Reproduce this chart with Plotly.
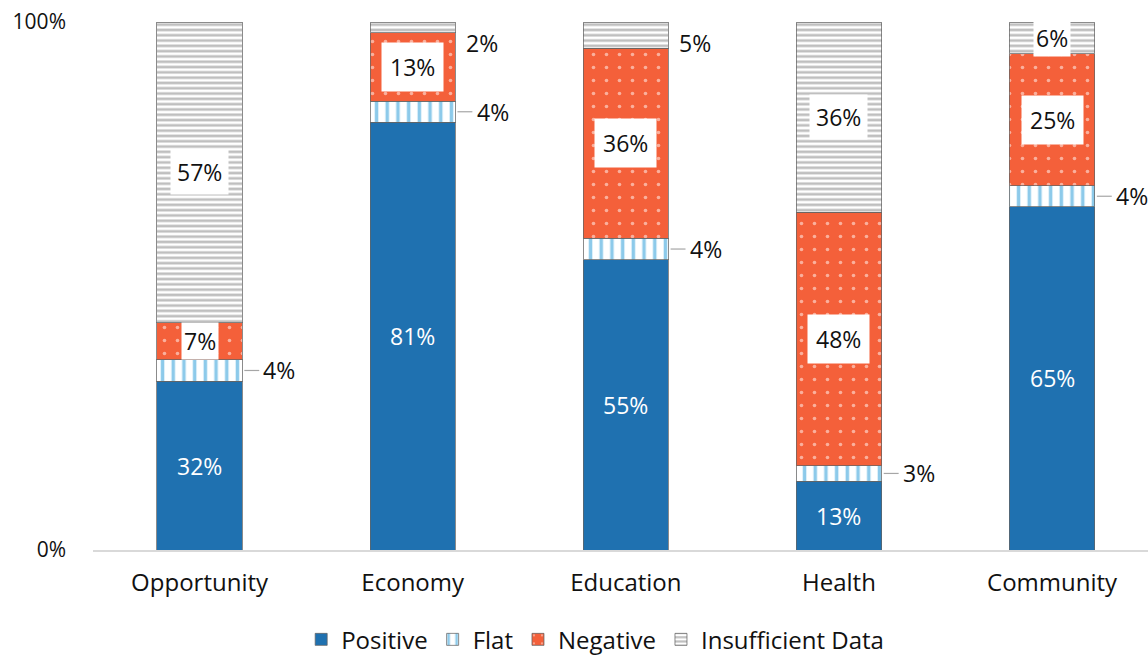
import plotly.graph_objects as go

categories = ["Opportunity", "Economy", "Education", "Health", "Community"]
positive = [32, 81, 55, 13, 65]
flat = [4, 4, 4, 3, 4]
negative = [7, 13, 36, 48, 25]
insufficient = [57, 2, 5, 36, 6]
insuf_inside = [True, False, False, True, True]
y_ticks = [0, 100]
y_ticktext = ["0%", "100%"]

FONT = "Open Sans"
C_POS = "#1f71b0"
C_FLAT = "#1c96d6"
C_NEG = "#f4603a"
C_INS = "#7f7f7f"
OUTLINE = dict(color="rgba(100,100,100,0.75)", width=1)
BW = 0.4
LBL = 23

x = list(range(len(categories)))
fig = go.Figure()
fig.add_trace(go.Bar(name="Positive", x=x, y=positive, width=BW,
                     marker=dict(color=C_POS, line=OUTLINE)))
fig.add_trace(go.Bar(name="Flat", x=x, y=flat, width=BW,
                     marker=dict(color="white", line=OUTLINE,
                                 pattern=dict(shape="|", fgcolor=C_FLAT, bgcolor="white",
                                              size=10.7, solidity=0.33, fillmode="overlay"))))
fig.add_trace(go.Bar(name="Negative", x=x, y=negative, width=BW,
                     marker=dict(color=C_NEG, line=OUTLINE,
                                 pattern=dict(shape=".", fgcolor="white", bgcolor=C_NEG,
                                              size=13, solidity=0.06, fillmode="overlay"))))
fig.add_trace(go.Bar(name="Insufficient Data", x=x, y=insufficient, width=BW,
                     marker=dict(color="white", line=OUTLINE,
                                 pattern=dict(shape="-", fgcolor=C_INS, bgcolor="white",
                                              size=5.3, solidity=0.5, fillmode="overlay"))))

annotations = []
shapes = []
for i in x:
    p, f, n, s = positive[i], flat[i], negative[i], insufficient[i]
    annotations.append(dict(x=i, y=p / 2, text=f"{p}%", showarrow=False,
                            font=dict(color="white", size=LBL, family=FONT)))
    yc = p + f / 2
    shapes.append(dict(type="line", xref="x", yref="y", x0=i + BW / 2 + 0.01, x1=i + 0.28,
                       y0=yc, y1=yc, line=dict(color="#a6a6a6", width=1.2)))
    annotations.append(dict(x=i + 0.375, y=yc, text=f"{f}%", showarrow=False,
                            font=dict(color="#111", size=LBL, family=FONT)))
    yn = p + f + n / 2
    annotations.append(dict(x=i, y=yn, text=f"{n}%", showarrow=False, bgcolor="white",
                            borderpad=2 if n < 10 else 8,
                            font=dict(color="#111", size=LBL, family=FONT)))
    yi = p + f + n + s / 2
    if insuf_inside[i]:
        annotations.append(dict(x=i, y=yi, text=f"{s}%", showarrow=False, bgcolor="white",
                                borderpad=2 if s < 10 else 6,
                                font=dict(color="#111", size=LBL, family=FONT)))
    else:
        annotations.append(dict(x=i + 0.325, y=min(yi, 96), text=f"{s}%", showarrow=False,
                                font=dict(color="#111", size=LBL, family=FONT)))

fig.update_layout(
    barmode="stack",
    width=1148, height=656,
    margin=dict(l=93, r=0, t=22, b=106, autoexpand=False),
    paper_bgcolor="white", plot_bgcolor="white",
    font=dict(family=FONT, color="#111"),
    annotations=annotations,
    shapes=shapes,
    xaxis=dict(range=[-0.5, 4.45], tickvals=x, ticktext=categories,
               tickfont=dict(size=24, family=FONT, color="#111"),
               showline=True, linecolor="#d9d9d9", linewidth=2,
               showgrid=False, zeroline=False, ticks="", ticklabelstandoff=10,
               automargin=False),
    yaxis=dict(range=[0, 100], tickvals=y_ticks, ticktext=y_ticktext,
               tickfont=dict(size=21, family=FONT, color="#111"),
               showgrid=False, zeroline=False, showline=False, ticklabelstandoff=26,
               automargin=False),
    legend=dict(orientation="h", x=0.476, xanchor="center", y=-0.17, yanchor="middle",
                font=dict(size=24, family=FONT, color="#111"), traceorder="normal",
                itemwidth=30),
    showlegend=True,
)

fig.write_html("out.html")
